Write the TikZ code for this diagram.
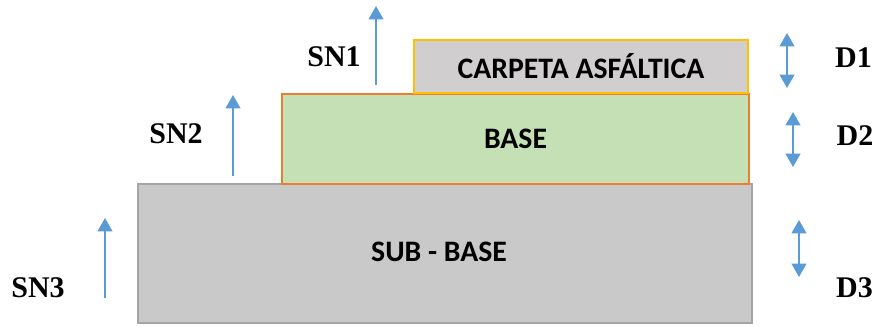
\documentclass[tikz,border=0pt]{standalone}
\usepackage{fontspec}
\setmainfont{Liberation Serif}
\newfontfamily\calibri{Carlito}
\usetikzlibrary{arrows.meta,positioning}

\definecolor{arrowblue}{HTML}{5B9BD5}
\definecolor{carpetafill}{HTML}{D0CECE}
\definecolor{carpetaline}{HTML}{FFC000}
\definecolor{basefill}{HTML}{C5E0B4}
\definecolor{baseline}{HTML}{ED7D31}
\definecolor{subfill}{HTML}{C9C9C9}
\definecolor{subline}{HTML}{A5A5A5}

\begin{document}
\begin{tikzpicture}[
  x=0.75pt, y=-0.75pt,
  layertext/.style={inner sep=0pt, font=\calibri\fontsize{22.3}{26}\bfseries\selectfont},
  layer/.style={layertext, draw, line width=1.5pt},
  lbl/.style={inner sep=0pt, font=\fontsize{22.5}{26}\bfseries\selectfont},
  arr/.style={-{Triangle[length=10pt, width=11pt]}, line width=1.4pt, arrowblue},
  dim/.style={{Triangle[length=10pt, width=11pt]}-{Triangle[length=10pt, width=11pt]},
    line width=1.4pt, arrowblue}
]
\useasboundingbox (0,0) rectangle (877,326);

% pavement layers, bottom first
\node[layer, fill=subfill, draw=subline, minimum width=460.5pt, minimum height=104.25pt]
  (sub) at (445,253.5) {};
\node[layertext] (subtxt) at (439,252) {SUB - BASE};
\node[layer, fill=basefill, draw=baseline, minimum width=350.25pt, minimum height=67.5pt]
  (base) at (515.5,139) {BASE};
\node[layer, fill=carpetafill, draw=carpetaline, minimum width=250.5pt, minimum height=39.75pt]
  (carpeta) at (581,66.5) {CARPETA ASFÁLTICA};

% structural numbers
\node[lbl] (sn1) at (334,56.5) {SN1};
\node[lbl] (sn2) at (176,134) {SN2};
\node[lbl] (sn3) at (38,287.5) {SN3};
\coordinate (sn1 foot) at (376,85);  \coordinate (sn1 tip) at (376,6);
\coordinate (sn2 foot) at (233,176); \coordinate (sn2 tip) at (233,95);
\coordinate (sn3 foot) at (105,298); \coordinate (sn3 tip) at (105,218);
\draw[arr] (sn1 foot) -- (sn1 tip);
\draw[arr] (sn2 foot) -- (sn2 tip);
\draw[arr] (sn3 foot) -- (sn3 tip);

% layer thicknesses
\node[lbl] (d1) at (853.5,58) {D1};
\node[lbl] (d2) at (855,135.5) {D2};
\node[lbl] (d3) at (854.5,287.5) {D3};
\coordinate (d1 top) at (787,33);  \coordinate (d1 bot) at (787,88);
\coordinate (d2 top) at (793,112); \coordinate (d2 bot) at (793,167);
\coordinate (d3 top) at (799,220); \coordinate (d3 bot) at (799,277);
\draw[dim] (d1 top) -- (d1 bot);
\draw[dim] (d2 top) -- (d2 bot);
\draw[dim] (d3 top) -- (d3 bot);
\end{tikzpicture}
\end{document}
